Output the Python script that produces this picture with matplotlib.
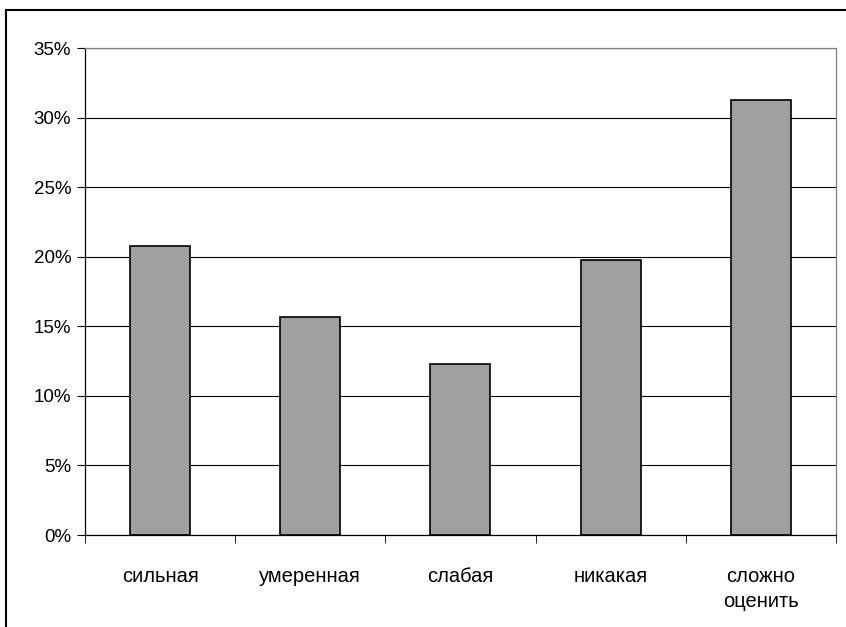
import matplotlib.pyplot as plt
from matplotlib.lines import Line2D
from matplotlib.ticker import FuncFormatter, FixedLocator

plt.rcParams['font.family'] = ['Liberation Sans', 'DejaVu Sans']

# Data
categories = ["сильная", "умеренная", "слабая", "никакая", "сложно\nоценить"]
values = [20.8, 15.7, 12.3, 19.8, 31.3]
y_ticks = [0, 5, 10, 15, 20, 25, 30, 35]

fig = plt.figure(figsize=(8.46, 6.27), dpi=100)
ax = fig.add_axes([0.1005, 0.1467, 0.8875, 0.7767])

x = list(range(len(categories)))
ax.bar(x, values, width=0.4, color="#a0a0a0", edgecolor="black", linewidth=1.2, zorder=3)

ax.set_xlim(-0.5, len(categories) - 0.5)
ax.set_ylim(0, 35)
ax.set_yticks(y_ticks)
ax.yaxis.set_major_formatter(FuncFormatter(lambda v, p: f"{v:.0f}%"))
ax.grid(axis="y", color="black", linewidth=0.8, zorder=0)

ax.set_xticks(x)
ax.set_xticklabels(categories, fontsize=14.5, linespacing=1.38, va="top")
ax.xaxis.set_minor_locator(FixedLocator([i - 0.5 for i in range(len(categories) + 1)]))
ax.tick_params(axis="x", which="major", length=0, pad=23)
ax.tick_params(axis="x", which="minor", length=6, color="black", direction="out")
ax.tick_params(axis="y", length=6, labelsize=13.5, pad=4, direction="out")

ax.spines["left"].set_color("black")
ax.spines["bottom"].set_color("black")
ax.spines["top"].set_color("#808080")
ax.spines["right"].set_color("#808080")
for s in ax.spines.values():
    s.set_linewidth(0.9)

# outer chart frame (cropped)
fig.add_artist(Line2D([6 / 846, 6 / 846], [0, 1 - 10 / 627], transform=fig.transFigure, color="black", linewidth=1.5))
fig.add_artist(Line2D([6 / 846, 1], [1 - 10 / 627, 1 - 10 / 627], transform=fig.transFigure, color="black", linewidth=1.5))

fig.savefig("out.png", dpi=100)
